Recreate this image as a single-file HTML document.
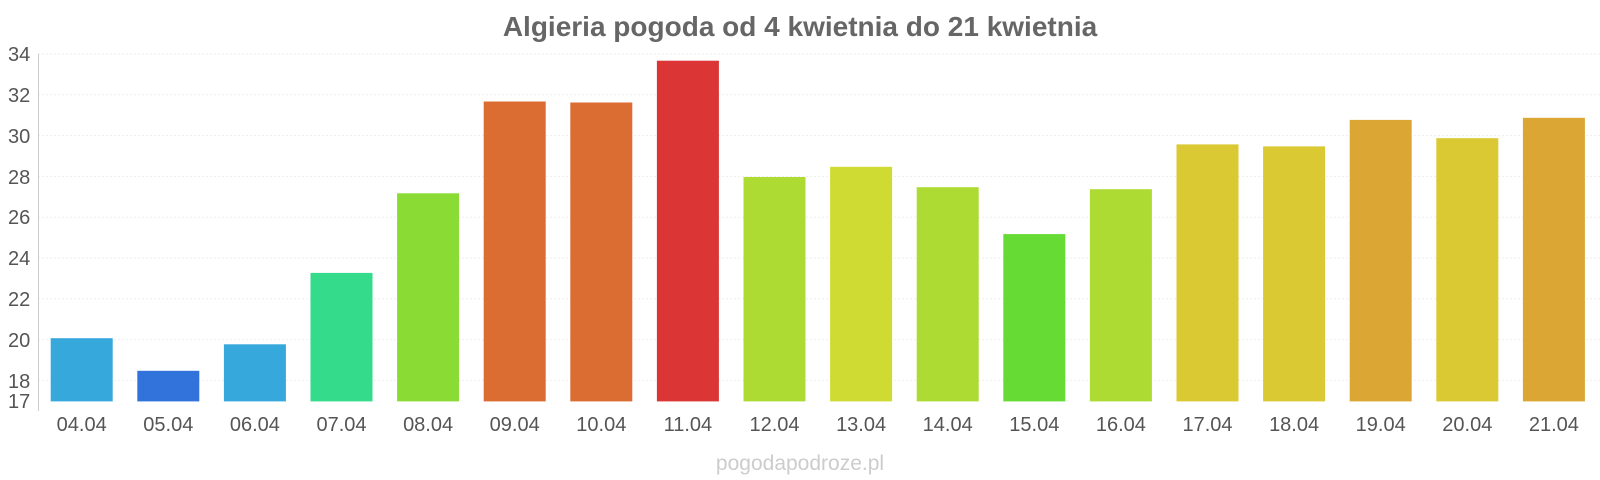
<!DOCTYPE html>
<html><head><meta charset="utf-8"><style>
body{margin:0;background:#fff;}
svg{display:block;font-family:"Liberation Sans",sans-serif;}
</style></head><body>
<svg width="1600" height="480" xmlns="http://www.w3.org/2000/svg">
<text x="800" y="36" text-anchor="middle" font-size="28" font-weight="bold" fill="#666">Algieria pogoda od 4 kwietnia do 21 kwietnia</text>
<g stroke="#eee" stroke-dasharray="2,2">
<line x1="38" x2="1600" y1="54" y2="54"/><line x1="38" x2="1600" y1="94.8" y2="94.8"/>
<line x1="38" x2="1600" y1="135.6" y2="135.6"/><line x1="38" x2="1600" y1="176.4" y2="176.4"/>
<line x1="38" x2="1600" y1="217.2" y2="217.2"/><line x1="38" x2="1600" y1="258" y2="258"/>
<line x1="38" x2="1600" y1="298.8" y2="298.8"/><line x1="38" x2="1600" y1="339.6" y2="339.6"/>
<line x1="38" x2="1600" y1="380.4" y2="380.4"/>
</g>
<line x1="38.5" x2="38.5" y1="54" y2="411" stroke="#ccc"/>
<g font-size="20" fill="#555">
<text x="8" y="61">34</text><text x="8" y="102">32</text><text x="8" y="143">30</text>
<text x="8" y="184">28</text><text x="8" y="224">26</text><text x="8" y="265">24</text>
<text x="8" y="306">22</text><text x="8" y="347">20</text><text x="8" y="388">18</text>
<text x="8" y="408">17</text>
</g>
<g>
<rect x="50.7" y="338.2" width="62" height="63.2" fill="#36a8db"/>
<rect x="137.3" y="370.8" width="62" height="30.6" fill="#3273db"/>
<rect x="223.9" y="344.3" width="62" height="57.1" fill="#36a8db"/>
<rect x="310.5" y="272.9" width="62" height="128.5" fill="#33db8a"/>
<rect x="397.1" y="193.3" width="62" height="208.1" fill="#8adb33"/>
<rect x="483.7" y="101.5" width="62" height="299.9" fill="#db6d33"/>
<rect x="570.3" y="102.5" width="62" height="298.9" fill="#db6d33"/>
<rect x="656.9" y="60.7" width="62" height="340.7" fill="#db3535"/>
<rect x="743.5" y="177.0" width="62" height="224.4" fill="#addb33"/>
<rect x="830.1" y="166.8" width="62" height="234.6" fill="#cfdb33"/>
<rect x="916.7" y="187.2" width="62" height="214.2" fill="#addb33"/>
<rect x="1003.3" y="234.1" width="62" height="167.3" fill="#66db33"/>
<rect x="1089.9" y="189.2" width="62" height="212.2" fill="#addb33"/>
<rect x="1176.5" y="144.4" width="62" height="257.0" fill="#dbc933"/>
<rect x="1263.1" y="146.4" width="62" height="255.0" fill="#dbc933"/>
<rect x="1349.7" y="119.9" width="62" height="281.5" fill="#dba633"/>
<rect x="1436.3" y="138.2" width="62" height="263.2" fill="#dbc933"/>
<rect x="1522.9" y="117.8" width="62" height="283.6" fill="#dba633"/>
</g>
<g font-size="20" fill="#555" text-anchor="middle">
<text x="81.7" y="431">04.04</text><text x="168.3" y="431">05.04</text><text x="254.9" y="431">06.04</text>
<text x="341.5" y="431">07.04</text><text x="428.1" y="431">08.04</text><text x="514.7" y="431">09.04</text>
<text x="601.3" y="431">10.04</text><text x="687.9" y="431">11.04</text><text x="774.5" y="431">12.04</text>
<text x="861.1" y="431">13.04</text><text x="947.7" y="431">14.04</text><text x="1034.3" y="431">15.04</text>
<text x="1120.9" y="431">16.04</text><text x="1207.5" y="431">17.04</text><text x="1294.1" y="431">18.04</text>
<text x="1380.7" y="431">19.04</text><text x="1467.3" y="431">20.04</text><text x="1553.9" y="431">21.04</text>
</g>
<text x="800" y="470" text-anchor="middle" font-size="21" fill="#ccc">pogodapodroze.pl</text>
</svg>
</body></html>
